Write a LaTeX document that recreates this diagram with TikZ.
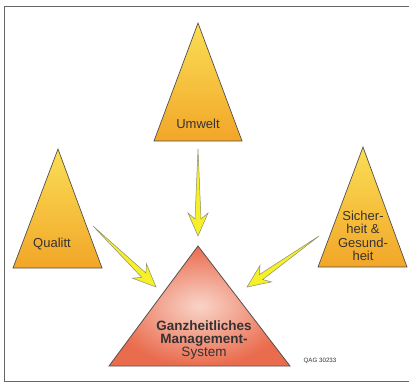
\documentclass[tikz,border=0pt]{standalone}
\usepackage{fontspec}
\setmainfont{Liberation Sans}
\usetikzlibrary{calc}
\definecolor{triTop}{RGB}{250,222,85}
\definecolor{triBot}{RGB}{242,166,40}
\definecolor{mainIn}{RGB}{249,212,200}
\definecolor{mainOut}{RGB}{234,108,78}
\definecolor{arrFill}{RGB}{246,240,40}
\definecolor{arrLine}{RGB}{140,140,120}
\definecolor{edge}{RGB}{85,80,75}
\definecolor{txt}{RGB}{55,50,50}
\newcommand\fatarrow[2]{%
  \coordinate (fw) at ($(#2)!23pt!(#1)$);
  \coordinate (fn) at ($(#2)!17pt!(#1)$);
  \filldraw[arrowsty] (#1) -- ($(fn)!3pt!90:(#2)$) -- ($(fw)!10pt!90:(#2)$) -- (#2)
    -- ($(fw)!10pt!-90:(#2)$) -- ($(fn)!3pt!-90:(#2)$) -- cycle;}
\begin{document}
\begin{tikzpicture}[x=1pt,y=-1pt,
  arrowsty/.style={fill=arrFill,draw=arrLine,line width=0.5pt,line join=miter},
  tri/.style={top color=triTop,bottom color=triBot,draw=edge,line width=0.7pt},
  lbl/.style={text=txt,font=\fontsize{13}{13.4}\selectfont,align=center,inner sep=0pt}]
\useasboundingbox (0,0) rectangle (409,383);
\fill[white] (0,0) rectangle (409,383);
\draw[gray!80!black,line width=1pt] (410,6) -- (4,6) -- (4,381) -- (410,381);
% triangles
\coordinate (U1) at (198,23); \coordinate (U2) at (154,141); \coordinate (U3) at (242,141);
\coordinate (Q1) at (58,149); \coordinate (Q2) at (13,268); \coordinate (Q3) at (102,268);
\coordinate (S1) at (363,147); \coordinate (S2) at (318,267); \coordinate (S3) at (407,267);
\coordinate (M1) at (198,246); \coordinate (M2) at (109,366); \coordinate (M3) at (290,366);
\path[tri] (U1) -- (U2) -- (U3) -- cycle;
\path[tri] (Q1) -- (Q2) -- (Q3) -- cycle;
\path[tri] (S1) -- (S2) -- (S3) -- cycle;
\path[inner color=mainIn,outer color=mainOut,draw=edge,line width=0.8pt] (M1) -- (M2) -- (M3) -- cycle;
% labels
\node[lbl] (tU) at (198,124) {Umwelt};
\node[lbl] (tQ) at (52,244) {Qualitt};
\node[lbl] (tS) at (363,236) {Sicher-\\heit \&\\Gesund-\\heit};
\node[lbl,font=\fontsize{13.5}{13.4}\selectfont] (tM) at (204,340) {\textbf{Ganzheitliches}\\\textbf{Management-}\\System};
\node[text=txt,font=\fontsize{6.2}{7}\selectfont,inner sep=0pt] (qag) at (320,361) {QAG 30233};
% arrows
\coordinate (a1s) at (198,149); \coordinate (a1e) at (198,236);
\coordinate (a2s) at (93,226);  \coordinate (a2e) at (156,287);
\coordinate (a3s) at (319,236); \coordinate (a3e) at (247,287);
\fatarrow{a1s}{a1e}
\fatarrow{a2s}{a2e}
\fatarrow{a3s}{a3e}
\end{tikzpicture}
\end{document}
